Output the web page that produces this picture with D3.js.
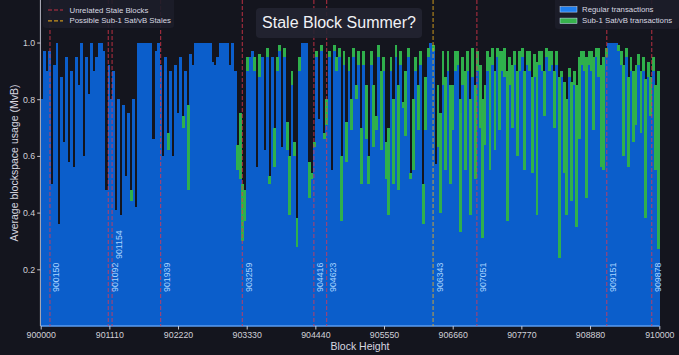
<!DOCTYPE html>
<html><head><meta charset="utf-8">
<script src="https://cdn.jsdelivr.net/npm/d3@7"></script>
<style>
html,body{margin:0;padding:0;background:#14151e;}
svg{display:block;font-family:"Liberation Sans",Arial,sans-serif;}
</style></head>
<body>
<svg id="c" width="679" height="355"></svg>
<script>
// ---- data (bins of 40 blocks starting at 900000) ----
const binSize = 40;
const regular = [
0.8,0.97,0.9,0.97,0.5,0.92,1.0,0.36,0.88,0.65,
0.95,0.58,0.9,0.56,0.95,0.85,1.0,0.6,0.95,0.82,
1.0,0.9,0.95,1.0,1.0,0.97,0.48,0.92,0.8,0.9,
0.41,0.8,0.39,0.78,0.53,0.75,0.44,0.8,0.42,1.0,
1.0,1.0,1.0,1.0,1.0,0.66,0.97,1.0,0.92,0.6,
0.95,0.62,0.9,0.6,0.92,0.75,0.95,0.7,0.9,0.48,
0.96,0.92,1.0,1.0,1.0,1.0,1.0,1.0,1.0,0.93,
0.92,0.95,1.0,1.0,1.0,1.0,0.92,1.0,0.9,0.55,
0.52,0.3,0.37,0.9,0.95,0.97,0.9,0.56,0.88,0.95,
0.62,0.95,0.5,0.95,0.56,0.9,0.97,0.63,0.95,0.62,
0.39,0.85,0.6,0.28,0.9,1.0,1.0,1.0,0.45,0.52,
0.63,0.95,0.73,0.97,0.66,0.71,0.95,0.55,0.97,0.9,
0.95,0.37,0.92,0.58,0.9,0.69,0.95,0.8,0.92,0.5,
0.92,0.66,0.5,0.92,0.63,0.69,0.95,0.62,0.9,0.52,
0.39,0.9,0.5,0.95,0.48,0.92,0.77,0.67,0.95,0.52,
0.55,0.9,0.69,0.92,0.36,0.69,0.95,1.0,0.97,0.57,
0.63,0.4,0.85,0.55,0.9,0.5,0.69,0.9,0.92,0.33,
0.85,0.55,0.9,0.39,0.88,0.52,0.9,0.7,0.31,0.64,
0.9,0.55,0.92,0.62,0.95,0.69,0.9,0.88,0.37,0.85,
0.7,0.92,0.6,0.9,0.95,0.55,0.92,0.9,0.54,0.88,
0.39,0.92,0.9,0.74,0.95,0.9,0.92,0.7,0.92,0.24,
0.88,0.54,0.39,0.88,0.44,0.85,0.35,0.66,0.92,0.9,
0.45,0.92,0.9,0.69,0.95,0.88,0.56,0.55,0.95,1.0,
1.0,1.0,1.0,0.97,0.92,0.6,0.95,0.56,0.9,0.65,
0.71,0.92,0.68,0.9,0.38,0.88,0.74,0.9,0.55,0.27
];
const sub1 = [
0,0,0,0,0,0,0,0,0,0,
0,0,0,0,0,0,0,0,0,0,
0,0,0,0,0,0,0,0,0,0,
0,0,0,0,0,0,0.04,0,0,0,
0,0,0,0,0,0,0,0,0,0,
0,0.06,0,0,0,0,0,0.04,0,0.3,
0,0,0,0,0,0,0,0,0,0,
0,0,0,0,0,0,0,0,0,0.09,
0.23,0.2,0.11,0.05,0,0,0.05,0,0.08,0,
0,0.03,0.03,0,0.14,0.05,0.02,0,0.03,0.1,
0.21,0.05,0.05,0.1,0.05,0,0,0,0.13,0.02,
0.02,0.02,0,0.02,0.02,0.09,0.02,0,0.02,0.05,
0.03,0.23,0.05,0.14,0.05,0.11,0.03,0.05,0.05,0.2,
0.05,0.19,0.1,0.05,0.22,0.05,0.04,0.28,0.05,0.13,
0.31,0.05,0.3,0.04,0.37,0.05,0.02,0.23,0.03,0.02,
0.25,0.05,0.16,0.05,0.14,0.19,0.03,0,0.02,0,
0.22,0.35,0.12,0.33,0.07,0.35,0.16,0.07,0.05,0.47,
0.1,0.35,0.07,0.41,0.1,0.33,0.07,0.22,0.49,0.21,
0.07,0.4,0.06,0.28,0.03,0.28,0.07,0.1,0.53,0.1,
0.22,0.05,0.3,0.07,0.03,0.35,0.05,0.07,0.34,0.08,
0.54,0.05,0.07,0.16,0.03,0.07,0.05,0.2,0.05,0.64,
0.02,0.32,0.41,0.03,0.42,0.05,0.5,0.29,0.05,0.07,
0.5,0.05,0.07,0.26,0.03,0.1,0.36,0.4,0.03,0,
0,0,0,0.02,0.05,0.32,0.03,0.32,0.05,0.25,
0.21,0.04,0.22,0.05,0.49,0.05,0.14,0.05,0.3,0.63
];
const binStart = regular.map((_, i) => 900000 + i * binSize);
const unrelatedStales = [900150, 901092, 901154, 901939, 903259, 904416, 904623, 907051, 909151, 909878];
const possibleStales = [906343];
const xTicks = [900000, 901110, 902220, 903330, 904440, 905550, 906660, 907770, 908880, 910000];
const yTicks = [0.2, 0.4, 0.6, 0.8, 1.0];
const legendLines = ["Unrelated Stale Blocks", "Possible Sub-1 Sat/vB Stales"];
const legendSeries = ["Regular transactions", "Sub-1 Sat/vB transactions"];
const titleText = "Stale Block Summer?";

// ---- drawing ----
const svg = d3.select("#c");
const W = 679, H = 355;
const x = d3.scaleLinear().domain([900000, 910000]).range([40.7, 659.3]);
const y = d3.scaleLinear().domain([0, 1.15]).range([326, 0]);
const blue = "#0b5ecb", green = "#2fb04c", bg = "#14151e";

svg.append("rect").attr("width", W).attr("height", H).attr("fill", bg);

const bars = svg.append("g").attr("shape-rendering", "crispEdges");
bars.selectAll("rect.reg").data(binStart).enter().append("rect")
  .attr("x", d => x(d)).attr("width", d => x(d + binSize) - x(d) + 0.4)
  .attr("y", (d, i) => y(regular[i])).attr("height", (d, i) => y(0) - y(regular[i]))
  .attr("fill", blue);
bars.selectAll("rect.sub").data(binStart).enter().append("rect")
  .attr("x", d => x(d)).attr("width", d => x(d + binSize) - x(d) + 0.4)
  .attr("y", (d, i) => y(regular[i] + sub1[i])).attr("height", (d, i) => y(regular[i]) - y(regular[i] + sub1[i]))
  .attr("fill", green);

// bottom edge highlight
svg.append("line").attr("x1", x(900000)).attr("x2", x(910000)).attr("y1", y(0)).attr("y2", y(0))
  .attr("stroke", "#5b9cf0").attr("stroke-width", 1.5);

// vertical stale lines
const vl = svg.append("g");
vl.selectAll("line.u").data(unrelatedStales).enter().append("line")
  .attr("x1", d => x(d)).attr("x2", d => x(d)).attr("y1", 0).attr("y2", y(0))
  .attr("stroke", "#e8384c").attr("stroke-opacity", 0.7).attr("stroke-width", 1.1).attr("stroke-dasharray", "4,2");
vl.selectAll("line.p").data(possibleStales).enter().append("line")
  .attr("x1", d => x(d)).attr("x2", d => x(d)).attr("y1", 0).attr("y2", y(0))
  .attr("stroke", "#f2b21c").attr("stroke-opacity", 0.75).attr("stroke-width", 1.1).attr("stroke-dasharray", "4,2");

const allStales = unrelatedStales.concat(possibleStales);
vl.selectAll("text").data(allStales).enter().append("text")
  .attr("transform", d => `translate(${x(d) + 6.5},${d === 901154 ? 259 : 292}) rotate(-90)`)
  .attr("dominant-baseline", "central")
  .attr("fill", "#a9d5ff").attr("font-size", 8.8).text(d => d);

// axes
const yAxis = svg.append("g").attr("transform", `translate(${x(900000)},0)`)
  .call(d3.axisLeft(y).tickValues(yTicks).tickFormat(d3.format(".1f")).tickSize(3.5).tickPadding(2));
yAxis.select(".domain").remove();
yAxis.selectAll("text").attr("fill", "#d0d0d8").attr("font-size", 8.8).attr("font-family", "Liberation Sans, Arial, sans-serif");
yAxis.selectAll("line").attr("stroke", "#c8c8d0");
svg.append("line").attr("x1", x(900000) - 0.3).attr("x2", x(900000) - 0.3).attr("y1", 0).attr("y2", y(0))
  .attr("stroke", "#b8b8c4").attr("stroke-width", 1);

const xAxis = svg.append("g").attr("transform", `translate(0,${y(0)})`)
  .call(d3.axisBottom(x).tickValues(xTicks).tickFormat(d3.format("d")).tickSize(3.5).tickPadding(2));
xAxis.select(".domain").remove();
xAxis.selectAll("text").attr("fill", "#d0d0d8").attr("font-size", 8.8).attr("font-family", "Liberation Sans, Arial, sans-serif");
xAxis.selectAll("line").attr("stroke", "#c8c8d0");

svg.append("text").attr("x", 360).attr("y", 350).attr("text-anchor", "middle")
  .attr("fill", "#d8d8e0").attr("font-size", 10.5).text("Block Height");
svg.append("text").attr("transform", `translate(18,163) rotate(-90)`).attr("text-anchor", "middle")
  .attr("fill", "#d8d8e0").attr("font-size", 10.5).text("Average blockspace usage (MvB)");

// title
svg.append("rect").attr("x", 256).attr("y", 8).attr("width", 166).attr("height", 30).attr("rx", 4)
  .attr("fill", "#222431").attr("fill-opacity", 0.9);
svg.append("text").attr("x", 339).attr("y", 28).attr("text-anchor", "middle")
  .attr("fill", "#f2f2f6").attr("font-size", 16).text(titleText);

// left legend
svg.append("rect").attr("x", 43).attr("y", -4).attr("width", 131).attr("height", 32).attr("rx", 3)
  .attr("fill", "#1c1d29").attr("fill-opacity", 0.9);
const lcol = ["#e8384c", "#f2b21c"];
legendLines.forEach((t, i) => {
  const yy = 10 + i * 10.8;
  svg.append("line").attr("x1", 48).attr("x2", 63).attr("y1", yy).attr("y2", yy)
    .attr("stroke", lcol[i]).attr("stroke-opacity", 0.8).attr("stroke-width", 1.2).attr("stroke-dasharray", "4,2");
  svg.append("text").attr("x", 69.5).attr("y", yy).attr("dominant-baseline", "central")
    .attr("fill", "#d8d8e0").attr("font-size", 7.8).text(t);
});

// right legend
svg.append("rect").attr("x", 555).attr("y", -4).attr("width", 124).attr("height", 33).attr("rx", 3)
  .attr("fill", "#1c1d29").attr("fill-opacity", 0.9);
const pcol = ["#1f7ff0", "#37b34d"];
legendSeries.forEach((t, i) => {
  const yy = 9.3 + i * 11.4;
  svg.append("rect").attr("x", 560).attr("y", yy - 2.6).attr("width", 17).attr("height", 5.4)
    .attr("fill", pcol[i]).attr("stroke", "#cfe3ff").attr("stroke-width", 0.5);
  svg.append("text").attr("x", 582).attr("y", yy).attr("dominant-baseline", "central")
    .attr("fill", "#d8d8e0").attr("font-size", 7.8).text(t);
});
</script>
</body></html>
